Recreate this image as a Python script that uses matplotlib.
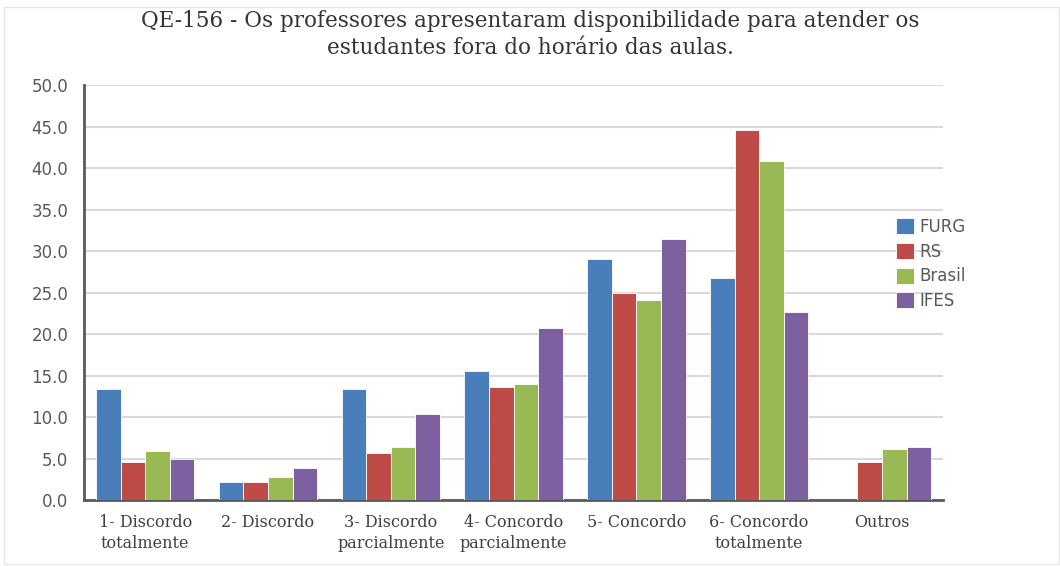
import matplotlib
matplotlib.use("Agg")
import matplotlib.pyplot as plt
import numpy as np

categories = ["1- Discordo\ntotalmente", "2- Discordo", "3- Discordo\nparcialmente",
              "4- Concordo\nparcialmente", "5- Concordo", "6- Concordo\ntotalmente", "Outros"]
furg = [13.4, 2.2, 13.4, 15.5, 29.0, 26.7, 0.0]
rs = [4.6, 2.2, 5.7, 13.6, 25.0, 44.6, 4.6]
brasil = [5.9, 2.8, 6.4, 14.0, 24.1, 40.9, 6.1]
ifes = [4.9, 3.9, 10.4, 20.7, 31.4, 22.6, 6.4]

series = [("FURG", furg, "#4a7ebb"), ("RS", rs, "#be4b48"),
          ("Brasil", brasil, "#98b954"), ("IFES", ifes, "#7d60a0")]

fig = plt.figure(figsize=(10.6, 5.66), dpi=100)
ax = fig.add_axes([0.079, 0.1166, 0.811, 0.733])

x = np.arange(len(categories))
w = 0.2
for i, (name, vals, col) in enumerate(series):
    ax.bar(x + (i - 1.5) * w, vals, w, color=col, label=name,
           edgecolor="white", linewidth=0.6, zorder=3)

ax.set_xlim(-0.5, len(categories) - 0.5)
ax.set_ylim(0, 50)
ax.set_yticks(np.arange(0, 50.1, 5))
ax.set_yticklabels(["%.1f" % v for v in np.arange(0, 50.1, 5)])
ax.set_xticks(x)
ax.set_xticklabels(categories, family="DejaVu Serif", fontsize=11.5,
                   color="#404040", linespacing=1.3)
ax.tick_params(axis="y", labelsize=12, labelcolor="#595959", length=0, pad=11)
ax.tick_params(axis="x", length=0, pad=10)
ax.grid(axis="y", color="#d9d9d9", linewidth=1.5, zorder=0)
for s in ["top", "right"]:
    ax.spines[s].set_visible(False)
ax.spines["left"].set_color("#595959")
ax.spines["left"].set_linewidth(2)
ax.spines["bottom"].set_color("#595959")
ax.spines["bottom"].set_linewidth(2)

fig.text(0.5, 0.982, "QE-156 - Os professores apresentaram disponibilidade para atender os\n"
         "estudantes fora do horário das aulas.", ha="center", va="top",
         family="DejaVu Serif", fontsize=15.5, color="#333333", linespacing=1.3)

fig.legend(loc="upper left", bbox_to_anchor=(0.845, 0.615), frameon=False,
           fontsize=12, labelcolor="#595959", handlelength=1.1, handleheight=1.1,
           handletextpad=0.35, labelspacing=0.4, borderpad=0, borderaxespad=0)

fig.patches.append(plt.Rectangle((0.004, 0.004), 0.995, 0.983, transform=fig.transFigure,
                                 fill=False, edgecolor="#e6e6e6", linewidth=1))

fig.savefig("out.png", dpi=100)
